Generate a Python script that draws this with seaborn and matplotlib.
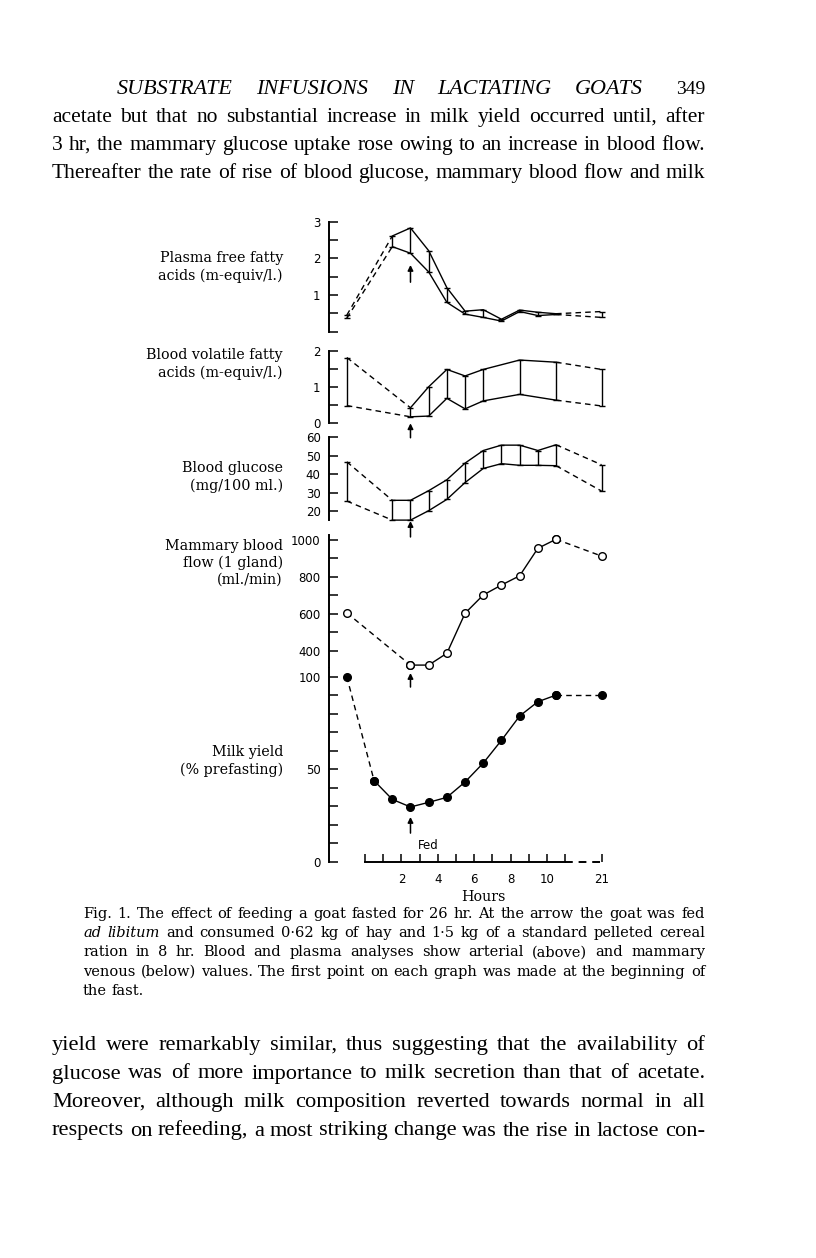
import matplotlib
matplotlib.use("Agg")
import matplotlib.pyplot as plt
import seaborn as sns

# x positions on the broken hour axis: -1 = start of the fast, 13 = 21 hr
ffa_x = [-1, 1.5, 2.5, 3.5, 4.5, 5.5, 6.5, 7.5, 8.5, 9.5, 10.5, 13]
ffa_art = [0.45, 2.61, 2.83, 2.21, 1.20, 0.56, 0.60, 0.34, 0.59, 0.53, 0.49, 0.55]
ffa_ven = [0.37, 2.32, 2.14, 1.63, 0.80, 0.48, 0.39, 0.29, 0.55, 0.44, 0.47, 0.39]

vfa_x = [-1, 2.5, 3.5, 4.5, 5.5, 6.5, 8.5, 10.5, 13]
vfa_art = [1.82, 0.43, 1.01, 1.49, 1.31, 1.49, 1.75, 1.69, 1.49]
vfa_ven = [0.49, 0.18, 0.20, 0.69, 0.40, 0.62, 0.80, 0.64, 0.48]

glu_x = [-1, 1.5, 2.5, 3.5, 4.5, 5.5, 6.5, 7.5, 8.5, 9.5, 10.5, 13]
glu_art = [46.6, 25.8, 25.8, 31.0, 36.9, 45.9, 52.7, 55.6, 55.6, 52.7, 55.8, 45.0]
glu_ven = [25.4, 15.1, 15.1, 20.2, 26.3, 35.4, 43.0, 45.6, 44.7, 44.7, 44.5, 30.8]

flow_x = [-1, 2.5, 3.5, 4.5, 5.5, 6.5, 7.5, 8.5, 9.5, 10.5, 13]
flow = [605, 322, 322, 386, 603, 702, 756, 806, 955, 1004, 913]

milk_x = [-1, 0.5, 1.5, 2.5, 3.5, 4.5, 5.5, 6.5, 7.5, 8.5, 9.5, 10.5, 13]
milk = [100, 43.9, 33.8, 29.7, 32.2, 34.9, 43.2, 53.4, 65.7, 78.8, 86.5, 90.1, 90.1]

hour_ticks = [0, 1, 2, 3, 4, 5, 6, 7, 8, 9, 10, 11, 13]
hour_labels = ["", "", "2", "", "4", "", "6", "", "8", "", "10", "", "21"]
fed_at = 2.5

header = "SUBSTRATE INFUSIONS IN LACTATING GOATS"
page_no = "349"
text_top = [
    "acetate but that no substantial increase in milk yield occurred until, after",
    "3 hr, the mammary glucose uptake rose owing to an increase in blood flow.",
    "Thereafter the rate of rise of blood glucose, mammary blood flow and milk",
]
# words starting with * are set in italics
caption = [
    "Fig. 1. The effect of feeding a goat fasted for 26 hr. At the arrow the goat was fed",
    "*ad *libitum and consumed 0\u00b762 kg of hay and 1\u00b75 kg of a standard pelleted cereal",
    "ration in 8 hr. Blood and plasma analyses show arterial (above) and mammary",
    "venous (below) values. The first point on each graph was made at the beginning of",
    "the fast.",
]
text_bottom = [
    "yield were remarkably similar, thus suggesting that the availability of",
    "glucose was of more importance to milk secretion than that of acetate.",
    "Moreover, although milk composition reverted towards normal in all",
    "respects on refeeding, a most striking change was the rise in lactose con-",
]

sns.set_style("ticks")
plt.rcParams.update({"text.color": "black", "xtick.color": "black",
                     "ytick.color": "black", "axes.edgecolor": "black"})
W, H = 816, 1258
fig = plt.figure(figsize=(W / 100, H / 100), dpi=100)
fig.patch.set_facecolor("white")
rend = fig.canvas.get_renderer()

X0, X1 = 329, 607          # pixel extent of the plot axes
XL = (-1.978, 13.30)       # matching hour positions
DASH = (0, (4, 3))
TICKFONT = dict(family="DejaVu Sans", size=8.5)
SERIF = "DejaVu Serif"


def panel(top, bottom, ylim, major, minor, label, label_y):
    ax = fig.add_axes([X0 / W, 1 - bottom / H, (X1 - X0) / W, (bottom - top) / H])
    ax.set_xlim(*XL)
    ax.set_ylim(*ylim)
    ax.patch.set_alpha(0)
    for s in ["top", "right", "bottom"]:
        ax.spines[s].set_visible(False)
    ax.spines["left"].set_linewidth(1.4)
    ax.set_yticks(major)
    ax.set_yticks(minor, minor=True)
    ax.set_yticklabels([str(v) for v in major], fontdict=TICKFONT)
    ax.tick_params(axis="y", which="both", direction="in", length=6.5,
                   width=1.1, pad=6, colors="black")
    ax.tick_params(axis="x", bottom=False, labelbottom=False)
    fig.text(283 / W, 1 - label_y / H, label, ha="right", va="center",
             multialignment="right", family=SERIF, fontsize=10.3, linespacing=1.25)
    return ax


def series(ax, x, y, **kw):
    # dashed from the pre-fast point and to the 21 hr point, solid in between
    base = dict(color="black", linewidth=1.0, errorbar=None, sort=False,
                legend=False, clip_on=False)
    base.update(kw)
    sns.lineplot(x=x[1:-1], y=y[1:-1], ax=ax, **base)
    sns.lineplot(x=x[:2], y=y[:2], ax=ax, linestyle=DASH, **base)
    sns.lineplot(x=x[-2:], y=y[-2:], ax=ax, linestyle=DASH, **base)
    ax.set_xlabel("")
    ax.set_ylabel("")


def band(ax, x, hi, lo):
    series(ax, x, hi)
    series(ax, x, lo)
    ax.vlines(x, lo, hi, color="black", linewidth=1.0)
    ax.scatter(x + x, hi + lo, marker="_", s=14, color="black", linewidths=1.0,
               clip_on=False)


def arrow(ax, tail, head):
    ax.annotate("", xy=(fed_at, head), xytext=(fed_at, tail), annotation_clip=False,
                arrowprops=dict(arrowstyle="-|>", color="black", lw=1.1,
                                mutation_scale=8, shrinkA=0, shrinkB=0))


# Plasma FFA
ax1 = panel(221.7, 331.7, (0, 3), [1, 2, 3], [0, 0.5, 1.5, 2.5],
            "Plasma free fatty\nacids (m-equiv/l.)", 267)
band(ax1, ffa_x, ffa_art, ffa_ven)
arrow(ax1, 1.35, 1.82)

# Blood VFA
ax2 = panel(351, 423.3, (0, 2), [0, 1, 2], [0.5, 1.5],
            "Blood volatile fatty\nacids (m-equiv/l.)", 364)
band(ax2, vfa_x, vfa_art, vfa_ven)
arrow(ax2, -0.4, 0.0)

# Blood glucose
ax3 = panel(437, 520.3, (15, 60), [20, 30, 40, 50, 60], [],
            "Blood glucose\n(mg/100 ml.)", 477)
band(ax3, glu_x, glu_art, glu_ven)
arrow(ax3, 6, 14.6)

# Mammary blood flow
ax4 = panel(535.4, 667.3, (310, 1025), [400, 600, 800, 1000], [500, 700, 900],
            "Mammary blood\nflow (1 gland)\n(ml./min)", 563)
series(ax4, flow_x, flow, marker="o", markersize=5.5, markerfacecolor="white",
       markeredgecolor="black", markeredgewidth=1.0)
arrow(ax4, 203, 279)

# Milk yield
ax5 = panel(668.4, 862, (0, 104.5), [0, 50, 100], [10, 20, 30, 40, 60, 70, 80, 90],
            "Milk yield\n(% prefasting)", 761)
series(ax5, milk_x, milk, marker="o", markersize=5.5, markerfacecolor="black",
       markeredgecolor="black", markeredgewidth=1.0)
arrow(ax5, 15.6, 24.3)
ax5.text(3.45, 8.8, "Fed", ha="center", va="center", family="DejaVu Sans", fontsize=8.5)

# broken hour axis
ax5.spines["bottom"].set_visible(True)
ax5.spines["bottom"].set_bounds(0, 11)
ax5.spines["bottom"].set_linewidth(1.4)
ax5.set_xticks(hour_ticks)
ax5.set_xticklabels(hour_labels, fontdict=TICKFONT)
ax5.tick_params(axis="x", bottom=True, labelbottom=True, direction="in",
                length=6, width=1.1, pad=8)
ax5.plot([11, 13], [0, 0], color="black", lw=1.4, linestyle=DASH, clip_on=False)
fig.text(483 / W, 1 - 897 / H, "Hours", ha="center", va="center", family=SERIF, fontsize=10.3)


def fit_size(line, target, family, style="normal", base=12.0):
    t = fig.text(0, 0, line.replace("*", ""), family=family, fontsize=base, style=style)
    w = t.get_window_extent(renderer=rend).width
    t.remove()
    return base * target / w


def put_line(line, y_base, x0, x1, size, family, justify=True, style="normal"):
    words = line.split(" ")
    items = []
    for w in words:
        st = "italic" if w.startswith("*") else style
        t = fig.text(0, 1 - y_base / H, w.lstrip("*"), ha="left", va="baseline",
                     family=family, fontsize=size, style=st)
        items.append(t)
    widths = [t.get_window_extent(renderer=rend).width for t in items]
    if justify and len(items) > 1:
        gap = (x1 - x0 - sum(widths)) / (len(items) - 1)
    else:
        gap = size * 100 / 72 * 0.3
    x = x0
    for t, wd in zip(items, widths):
        t.set_x(x / W)
        x += wd + gap


BODY = "Liberation Serif"
hs = fit_size(header, 643 - 117, BODY, style="italic") * 0.86
put_line(header, 94, 117, 643, hs, BODY, style="italic")
fig.text(705 / W, 1 - 94 / H, page_no, ha="right", va="baseline", family=BODY, fontsize=14)

bs = fit_size(text_top[0], 705 - 52, BODY) * 0.95
for i, line in enumerate(text_top):
    put_line(line, 122 + 28 * i, 52, 705, bs, BODY)

cs = fit_size(caption[0], 705 - 83, SERIF) * 0.97
for i, line in enumerate(caption):
    put_line(line, 918 + 19.2 * i, 83, 705, cs, SERIF, justify=i < len(caption) - 1)

bs2 = fit_size(text_bottom[0], 705 - 52, BODY) * 0.95
for i, line in enumerate(text_bottom):
    put_line(line, 1050 + 28.5 * i, 52, 705, bs2, BODY)

fig.savefig("out.png", dpi=100, facecolor="white")
